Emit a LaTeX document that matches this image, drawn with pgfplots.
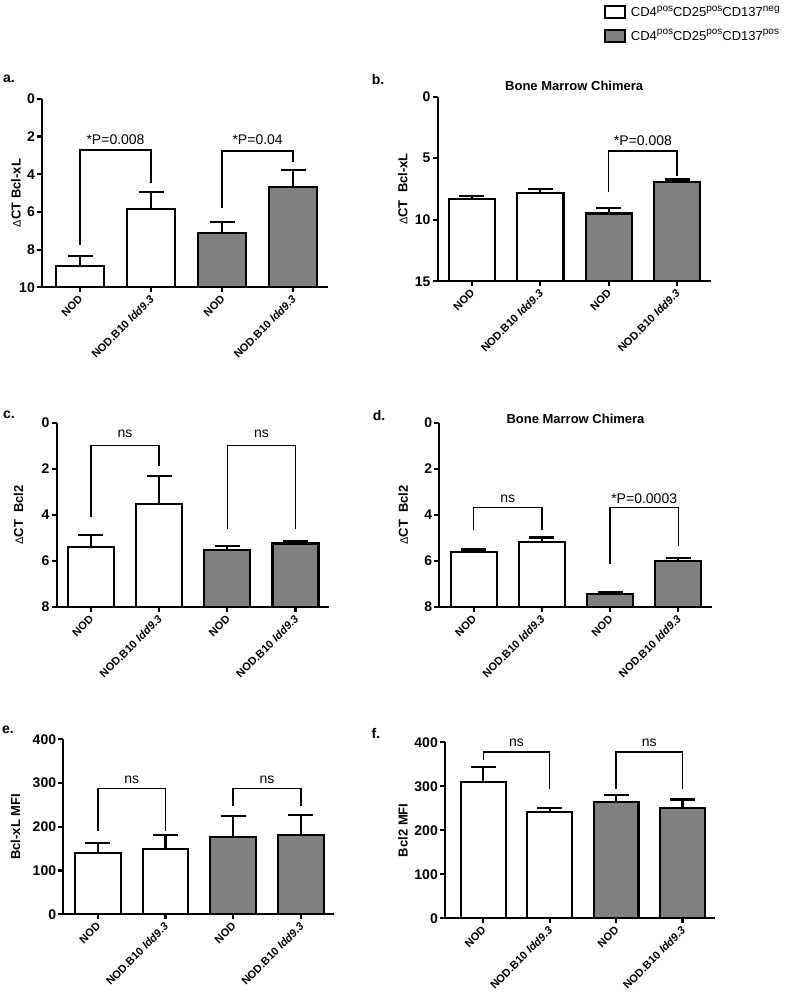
\documentclass[border=0pt]{standalone}
\usepackage{fontspec}
\setmainfont{Liberation Sans}
\usepackage{pgfplots}
\usepackage{pgfplotstable}
\pgfplotsset{compat=1.18}
\definecolor{barGray}{RGB}{128,128,128}
\newcommand{\sups}[1]{\raisebox{0.42em}{\fontsize{10}{10}\selectfont #1}}

% x = bar position, v = mean value, err = SEM (upper)
\pgfplotstableread{
x v err
0 8.85 0.53
1 5.83 0.87
2 7.12 0.60
3 4.70 0.92
}\dataA
\pgfplotstableread{
x v err
0 8.29 0.24
1 7.83 0.30
2 9.49 0.47
3 6.94 0.22
}\dataB
\pgfplotstableread{
x v err
0 5.38 0.50
1 3.53 1.21
2 5.53 0.19
3 5.24 0.12
}\dataC
\pgfplotstableread{
x v err
0 5.61 0.11
1 5.19 0.21
2 7.42 0.07
3 5.99 0.12
}\dataD
\pgfplotstableread{
x v err
0 141 22.8
1 150 31
2 176 49.5
3 182 45.8
}\dataE
\pgfplotstableread{
x v err
0 309 34
1 241 9
2 264 16
3 251.5 18.5
}\dataF

\tikzset{
  sig/.style={font=\fontsize{14}{14}\selectfont, anchor=center},
  plab/.style={font=\bfseries\fontsize{14}{14}\selectfont, anchor=center},
}
\pgfplotsset{
  panel/.style={
    scale only axis, anchor=south west,
    axis lines=left, axis line style={line width=2.2pt, -},
    enlargelimits=false, clip=false,
    xtick={0,1,2,3},
    xticklabels={NOD, NOD.B10 \textit{Idd9.3}, NOD, NOD.B10 \textit{Idd9.3}},
    x tick label style={rotate=45, anchor=north east, font=\bfseries\fontsize{11}{11}\selectfont, inner sep=1pt, xshift=-2.1pt, yshift=0.9pt},
    y tick label style={font=\bfseries\fontsize{14}{14}\selectfont, inner sep=2pt},
    tick style={line width=2.2pt, black},
    major tick length=5pt, tick align=outside,
    ylabel style={font=\bfseries\fontsize{13}{13}\selectfont, anchor=center},
    title style={font=\bfseries\fontsize{13}{13}\selectfont, anchor=center},
  },
  barbase/.style={ybar, bar width=0.675, bar shift=0pt, draw=black, line width=2.2pt,
    error bars/.cd, y dir=plus, y explicit,
    error bar style={line width=2.2pt, black},
    error mark options={rotate=90, line width=2.2pt, black, mark size=12.5pt}},
  whitebar/.style={skip coords between index={2}{4}, fill=white, barbase},
  graybar/.style={skip coords between index={0}{2}, fill=barGray, barbase},
  bracket/.style={sharp plot, mark=none, line width=1.4pt, black, forget plot},
}

\begin{document}
\begin{tikzpicture}
\useasboundingbox (0,0) rectangle (787pt,-992pt);

\node[plab] at (9pt,-79pt) {a.};
\node[plab] at (378pt,-79pt) {b.};
\node[plab] at (9pt,-415pt) {c.};
\node[plab] at (379pt,-415pt) {d.};
\node[plab] at (8pt,-730pt) {e.};
\node[plab] at (376pt,-733pt) {f.};

% ---------- a ----------
\begin{axis}[panel, at={(42pt,-287.3pt)}, width=286pt, height=188.5pt,
  xmin=-0.535, xmax=3.49, ymin=0, ymax=10,
  ytick={0,2,4,6,8,10}, yticklabels={10,8,6,4,2,0},
  ylabel={{\mdseries\fontsize{11}{11}\selectfont Δ}CT Bcl-xL},
  ylabel style={at={(axis description cs:-0.091,0.5)}}]
\addplot[whitebar] table[x=x, y expr=10-\thisrow{v}, y error=err] {\dataA};
\addplot[graybar] table[x=x, y expr=10-\thisrow{v}, y error=err] {\dataA};
\addplot[bracket] table[row sep=\\, y expr=10-\thisrow{y}] {x y\\ 0 7.77\\ 0 2.72\\ 1 2.72\\ 1 4.48\\};
\addplot[bracket] table[row sep=\\, y expr=10-\thisrow{y}] {x y\\ 2 5.80\\ 2 2.76\\ 3 2.76\\ 3 3.37\\};
\node[sig] at (axis cs:0.5,7.83) {*P=0.008};
\node[sig] at (axis cs:2.5,7.83) {*P=0.04};
\end{axis}

% ---------- b ----------
\begin{axis}[panel, at={(437.7pt,-281.3pt)}, width=273pt, height=184.6pt,
  xmin=-0.5, xmax=3.49, ymin=0, ymax=15,
  ytick={0,5,10,15}, yticklabels={15,10,5,0},
  ylabel={{\mdseries\fontsize{11}{11}\selectfont Δ}CT\ \ Bcl-xL},
  ylabel style={at={(axis description cs:-0.128,0.5)}},
  title={Bone Marrow Chimera},
  title style={at={(axis description cs:0.5,1.025)}},
  legend cell align=left,
  legend style={at={(axis description cs:0.609,1.497)}, anchor=north west,
    draw=none, fill=none, inner sep=0pt, row sep=9pt,
    font=\fontsize{13}{13}\selectfont,
    nodes={inner sep=1pt}},
  legend image code/.code={\draw[#1, line width=2.2pt] (0pt,-6pt) rectangle (20pt,6pt);}]
\addplot[whitebar] table[x=x, y expr=15-\thisrow{v}, y error=err] {\dataB};
\addlegendentry{\ CD4\sups{pos}CD25\sups{pos}CD137\sups{neg}}
\addplot[graybar] table[x=x, y expr=15-\thisrow{v}, y error=err] {\dataB};
\addlegendentry{\ CD4\sups{pos}CD25\sups{pos}CD137\sups{pos}}
\addplot[bracket] table[row sep=\\, y expr=15-\thisrow{y}] {x y\\ 2 7.72\\ 2 4.42\\ 3 4.42\\ 3 6.42\\};
\node[sig] at (axis cs:2.5,11.42) {*P=0.008};
\end{axis}

% ---------- c ----------
\begin{axis}[panel, at={(56.7pt,-607pt)}, width=272.3pt, height=184.3pt,
  xmin=-0.5, xmax=3.49, ymin=0, ymax=8,
  ytick={0,2,4,6,8}, yticklabels={8,6,4,2,0},
  ylabel={{\mdseries\fontsize{11}{11}\selectfont Δ}CT\ \ Bcl2},
  ylabel style={at={(axis description cs:-0.140,0.5)}}]
\addplot[whitebar] table[x=x, y expr=8-\thisrow{v}, y error=err] {\dataC};
\addplot[graybar] table[x=x, y expr=8-\thisrow{v}, y error=err] {\dataC};
\addplot[bracket] table[row sep=\\, y expr=8-\thisrow{y}] {x y\\ 0 4.11\\ 0 1.0\\ 1 1.0\\ 1 1.88\\};
\addplot[bracket] table[row sep=\\, y expr=8-\thisrow{y}] {x y\\ 2 4.63\\ 2 1.0\\ 3 1.0\\ 3 4.63\\};
\node[sig] at (axis cs:0.5,7.51) {ns};
\node[sig] at (axis cs:2.5,7.51) {ns};
\end{axis}

% ---------- d ----------
\begin{axis}[panel, at={(439.3pt,-607pt)}, width=272.4pt, height=184.3pt,
  xmin=-0.504, xmax=3.49, ymin=0, ymax=8,
  ytick={0,2,4,6,8}, yticklabels={8,6,4,2,0},
  ylabel={{\mdseries\fontsize{11}{11}\selectfont Δ}CT\ \ Bcl2},
  ylabel style={at={(axis description cs:-0.132,0.5)}},
  title={Bone Marrow Chimera},
  title style={at={(axis description cs:0.5,0.991)}}]
\addplot[whitebar] table[x=x, y expr=8-\thisrow{v}, y error=err] {\dataD};
\addplot[graybar] table[x=x, y expr=8-\thisrow{v}, y error=err] {\dataD};
\addplot[bracket] table[row sep=\\, y expr=8-\thisrow{y}] {x y\\ 0 4.67\\ 0 3.69\\ 1 3.69\\ 1 4.67\\};
\addplot[bracket] table[row sep=\\, y expr=8-\thisrow{y}] {x y\\ 2 6.15\\ 2 3.69\\ 3 3.69\\ 3 5.34\\};
\node[sig] at (axis cs:0.5,4.69) {ns};
\node[sig] at (axis cs:2.5,4.69) {*P=0.0003};
\end{axis}

% ---------- e ----------
\begin{axis}[panel, at={(63.3pt,-914.3pt)}, width=270.7pt, height=175pt,
  xmin=-0.51, xmax=3.49, ymin=0, ymax=400,
  ytick={0,100,200,300,400}, yticklabels={0,100,200,300,400},
  ylabel={Bcl-xL MFI},
  ylabel style={at={(axis description cs:-0.177,0.5)}}]
\addplot[whitebar] table[x=x, y=v, y error=err] {\dataE};
\addplot[graybar] table[x=x, y=v, y error=err] {\dataE};
\addplot[bracket] table[row sep=\\] {x y\\ 0 191\\ 0 287\\ 1 287\\ 1 191\\};
\addplot[bracket] table[row sep=\\] {x y\\ 2 247.6\\ 2 287\\ 3 287\\ 3 247.6\\};
\node[sig] at (axis cs:0.5,307) {ns};
\node[sig] at (axis cs:2.5,307) {ns};
\end{axis}

% ---------- f ----------
\begin{axis}[panel, at={(445pt,-918.3pt)}, width=270pt, height=176pt,
  xmin=-0.576, xmax=3.49, ymin=0, ymax=400,
  ytick={0,100,200,300,400}, yticklabels={0,100,200,300,400},
  ylabel={Bcl2 MFI},
  ylabel style={at={(axis description cs:-0.156,0.5)}}]
\addplot[whitebar] table[x=x, y=v, y error=err] {\dataF};
\addplot[graybar] table[x=x, y=v, y error=err] {\dataF};
\addplot[bracket] table[row sep=\\] {x y\\ 0 360\\ 0 378\\ 1 378\\ 1 294.7\\};
\addplot[bracket] table[row sep=\\] {x y\\ 2 294.7\\ 2 378\\ 3 378\\ 3 294.7\\};
\node[sig] at (axis cs:0.5,399) {ns};
\node[sig] at (axis cs:2.5,399) {ns};
\end{axis}
\end{tikzpicture}
\end{document}
